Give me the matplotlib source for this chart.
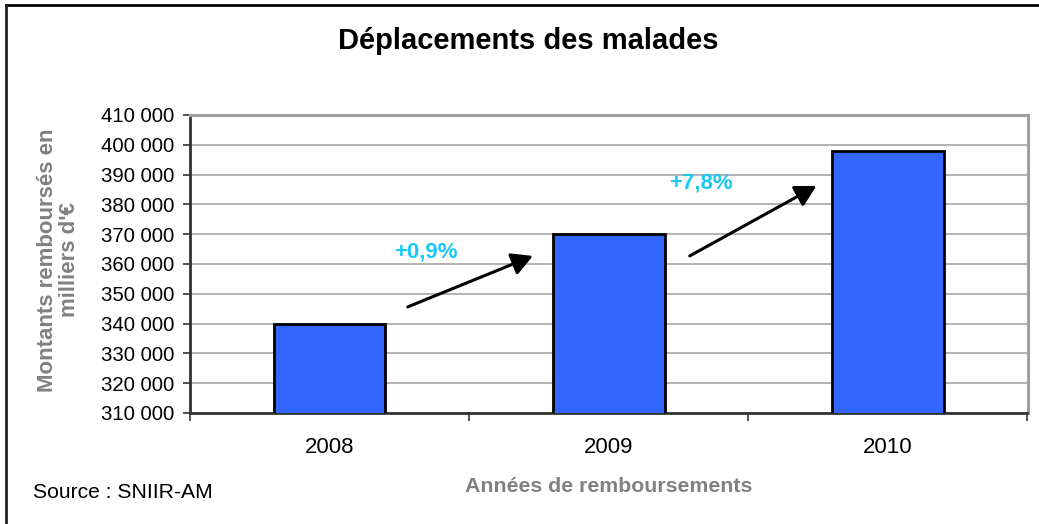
import matplotlib
matplotlib.use("Agg")
import matplotlib.pyplot as plt
from matplotlib.ticker import FuncFormatter, FixedLocator
from matplotlib.lines import Line2D

plt.rcParams['font.family'] = ['Liberation Sans', 'DejaVu Sans']

# Data
years = ["2008", "2009", "2010"]
amounts = [340000, 370000, 397800]
growth_labels = ["+0,9%", "+7,8%"]

title = "Déplacements des malades"
ylabel = "Montants remboursés en\nmilliers d'€"
xlabel = "Années de remboursements"
source = "Source : SNIIR-AM"

W, H = 1039, 524
fig = plt.figure(figsize=(W / 100, H / 100), dpi=100)
ax = fig.add_axes([190 / W, 1 - 413 / H, (1027.5 - 190) / W, (413 - 115) / H])

x = list(range(len(years)))
ax.bar(x, amounts, width=0.4, color="#3366FF", edgecolor="black", linewidth=2, zorder=3)

ax.set_ylim(310000, 410000)
ax.set_xlim(-0.5, len(years) - 0.5)
ax.set_yticks(range(310000, 410001, 10000))
ax.yaxis.set_major_formatter(FuncFormatter(lambda v, p: f"{int(v):,}".replace(",", " ")))
ax.grid(axis="y", color="#ADADAD", linewidth=1.3, zorder=0)

# category boundaries carry the ticks, labels sit at the centres
ax.xaxis.set_major_locator(FixedLocator([i - 0.5 for i in range(len(years) + 1)]))
ax.xaxis.set_minor_locator(FixedLocator(x))
ax.set_xticklabels([""] * (len(years) + 1))
ax.set_xticklabels(years, minor=True)
ax.tick_params(axis="x", which="major", length=6, width=1.2, color="#333333", direction="out")
ax.tick_params(axis="x", which="minor", length=0, pad=17, labelsize=16)
ax.tick_params(axis="y", length=5, width=1.2, color="#333333", pad=6, labelsize=14.7)

for side in ("top", "right"):
    ax.spines[side].set_color("#A0A0A0")
    ax.spines[side].set_linewidth(2.2)
for side in ("left", "bottom"):
    ax.spines[side].set_color("#333333")
    ax.spines[side].set_linewidth(2)

# growth arrows between consecutive years
arrows = [((0.28, 345600), (0.728, 362700)), ((1.29, 362700), (1.744, 386200))]
label_pos = [(0.345, 364000), (1.33, 387200)]
for (start, end), lab, pos in zip(arrows, growth_labels, label_pos):
    ax.annotate("", xy=end, xytext=start,
                arrowprops=dict(arrowstyle="-|>,head_length=0.55,head_width=0.3",
                                color="black", lw=2.2, mutation_scale=23,
                                shrinkA=0, shrinkB=0), zorder=5)
    ax.text(pos[0], pos[1], lab, color="#18C8F5", fontsize=16, fontweight="bold",
            ha="center", va="center", zorder=6)

fig.text(528 / W, 1 - 41 / H, title, fontsize=21, fontweight="bold", ha="center", va="center")
fig.text(58.5 / W, 1 - 260 / H, ylabel, fontsize=16, fontweight="bold", color="#808080",
         rotation=90, ha="center", va="center", multialignment="center", linespacing=1.1)
fig.text(609 / W, 1 - 487 / H, xlabel, fontsize=15.3, fontweight="bold", color="#808080",
         ha="center", va="center")
fig.text(33 / W, 1 - 492 / H, source, fontsize=15.2, ha="left", va="center")

# outer frame
fig.add_artist(Line2D([6 / W, 1], [1 - 4.5 / H, 1 - 4.5 / H], transform=fig.transFigure,
                      color="black", linewidth=2))
fig.add_artist(Line2D([6 / W, 6 / W], [0, 1 - 4.5 / H], transform=fig.transFigure,
                      color="#222222", linewidth=2))

fig.savefig("out.png", dpi=100)
